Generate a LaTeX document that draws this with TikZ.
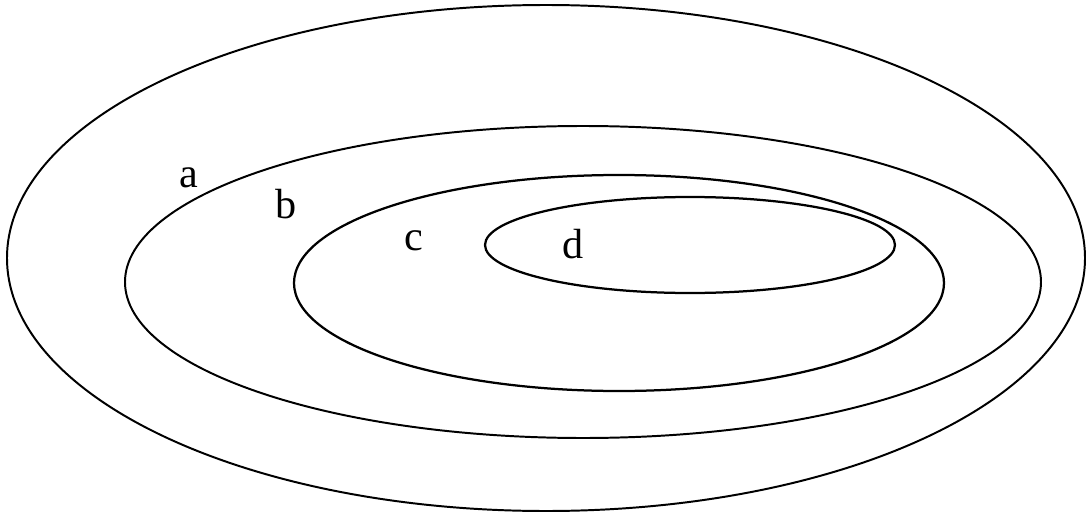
\documentclass[tikz,border=0pt]{standalone}
\usepackage{fontspec}
\setmainfont{Liberation Serif}

\begin{document}
\begin{tikzpicture}[x=0.025cm, y=-0.025cm, line width=1.4pt,
    ring/.style={draw=black},
    tag/.style={anchor=base, inner sep=0pt, font=\fontsize{30}{36}\selectfont}]
  \useasboundingbox (0,0) rectangle (1088,513);
  \draw[ring] (546,258) ellipse [x radius=539, y radius=253];
  \draw[ring] (583,282) ellipse [x radius=458, y radius=156];
  \draw[ring, line width=1.6pt] (619,283) ellipse [x radius=325, y radius=108];
  \draw[ring, line width=1.6pt] (690,245) ellipse [x radius=205, y radius=48];
  \node[tag] (a) at (189,187) {a};
  \node[tag] (b) at (286,218) {b};
  \node[tag] (c) at (414,250) {c};
  \node[tag] (d) at (573,258) {d};
\end{tikzpicture}
\end{document}
